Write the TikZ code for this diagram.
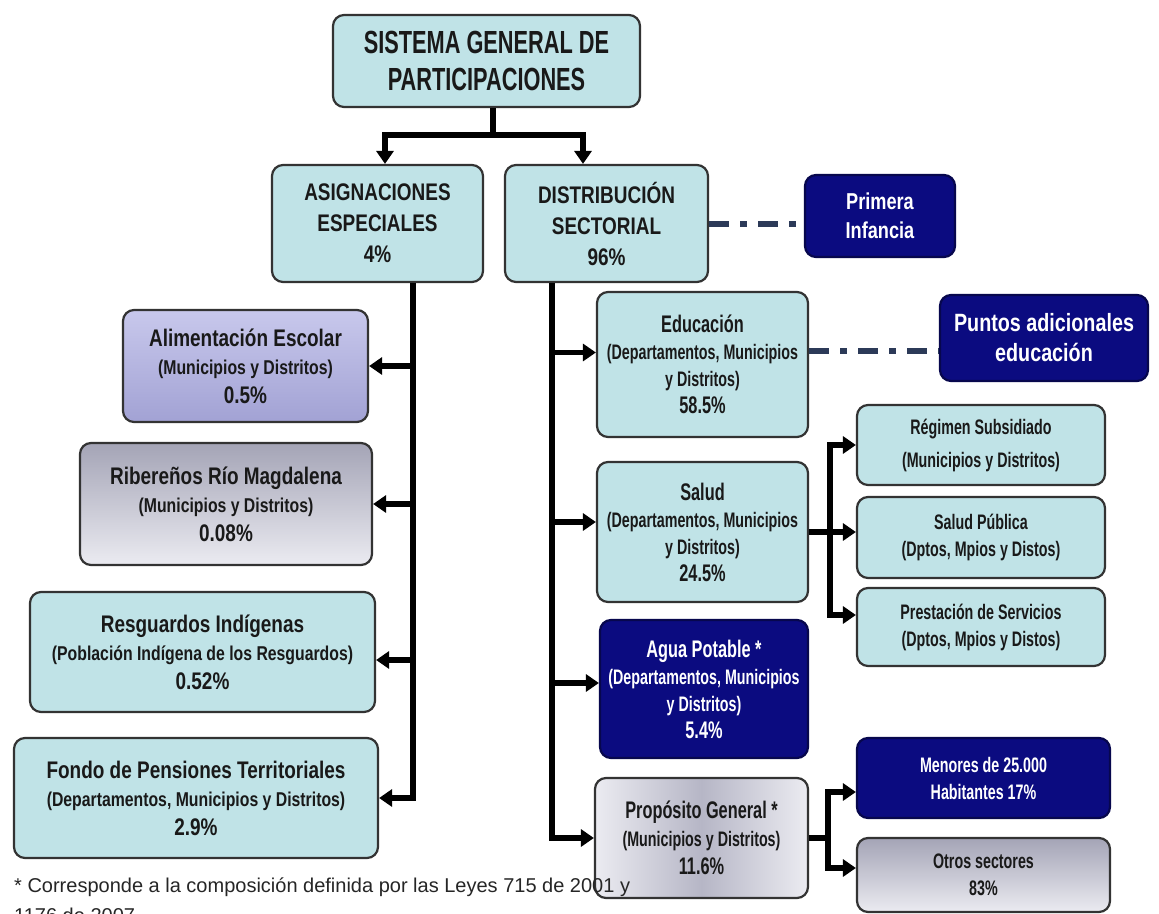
\documentclass[tikz,border=0pt]{standalone}
\usepackage{fontspec}
\setmainfont{Liberation Sans}
\newfontfamily\fA[FakeStretch=0.68]{Liberation Sans}
\newfontfamily\fB[FakeStretch=0.79]{Liberation Sans}
\usetikzlibrary{arrows.meta}
\definecolor{cyanbox}{HTML}{C0E3E7}
\definecolor{navyb}{HTML}{0B0B80}
\definecolor{ddcol}{HTML}{2C3A58}
\definecolor{lavA}{HTML}{C8C8EC}
\definecolor{lavB}{HTML}{A2A2D4}
\definecolor{grA}{HTML}{A4A4B6}
\definecolor{grB}{HTML}{EBEBF1}
\definecolor{grC}{HTML}{B6B6C6}
\newcommand\hd[1]{{\fontsize{24}{27}\selectfont #1}}
\newcommand\hdL[1]{{\fontsize{24}{28.5}\selectfont #1}}
\begin{document}
\begin{tikzpicture}[x=1pt,y=-1pt,
  box/.style={draw=black!80, line width=2.2pt, rounded corners=11pt, align=center,
    inner sep=0pt, text=black!90, font=\fA\bfseries\fontsize{21}{27}\selectfont},
  lbox/.style={font=\fB\bfseries\fontsize{20}{28.5}\selectfont},
  cbox/.style={box, fill=cyanbox},
  nbox/.style={box, fill=navyb, draw=navyb!60!black, text=white},
  bus/.style={line width=5.5pt, black},
  arr/.style={bus, -{Triangle[length=13pt,width=17pt]}},
  dd/.style={line width=6pt, ddcol, dash pattern=on 20pt off 11pt on 7pt off 11pt},
]
\useasboundingbox (0,0) rectangle (1159,913);
\clip (0,0) rectangle (1159,913);
\fill[white] (0,0) rectangle (1159,913);

% top
\node[cbox, minimum width=307pt, minimum height=92pt, font=\fA\bfseries\fontsize{32}{37}\selectfont] (title) at (486.5,61)
  {SISTEMA GENERAL DE\\PARTICIPACIONES};
\node[cbox, minimum width=211pt, minimum height=117pt, font=\fB\bfseries\fontsize{24}{31}\selectfont] (asig) at (377.5,223.5)
  {ASIGNACIONES\\ESPECIALES\\4\%};
\node[cbox, minimum width=203pt, minimum height=117pt, font=\fB\bfseries\fontsize{24}{31}\selectfont] (dist) at (606.5,223.5)
  {DISTRIBUCIÓN\\SECTORIAL\\96\%};
\node[nbox, minimum width=150pt, minimum height=82pt, font=\fB\bfseries\fontsize{23}{29}\selectfont] (prim) at (880,216)
  {Primera\\Infancia};

% left column
\node[box, lbox, top color=lavA, bottom color=lavB, minimum width=245pt, minimum height=112pt] (alim) at (245.5,366)
  {\hdL{Alimentación Escolar}\\(Municipios y Distritos)\\\hdL{0.5\%}};
\node[box, lbox, top color=grA, bottom color=grB, minimum width=292pt, minimum height=122pt] (rib) at (226,504)
  {\hdL{Ribereños Río Magdalena}\\(Municipios y Distritos)\\\hdL{0.08\%}};
\node[cbox, lbox, minimum width=345pt, minimum height=120pt] (res) at (202.5,652)
  {\hdL{Resguardos Indígenas}\\(Población Indígena de los Resguardos)\\\hdL{0.52\%}};
\node[cbox, lbox, minimum width=364pt, minimum height=120pt] (fondo) at (196,798)
  {\hdL{Fondo de Pensiones Territoriales}\\(Departamentos, Municipios y Distritos)\\\hdL{2.9\%}};

% right column
\node[cbox, minimum width=211pt, minimum height=145pt] (edu) at (702.5,364.5)
  {\hd{Educación}\\(Departamentos, Municipios\\y Distritos)\\\hd{58.5\%}};
\node[cbox, minimum width=211pt, minimum height=140pt] (salud) at (702.5,532)
  {\hd{Salud}\\(Departamentos, Municipios\\y Distritos)\\\hd{24.5\%}};
\node[nbox, minimum width=208pt, minimum height=138pt] (agua) at (704,689)
  {\hd{Agua Potable *}\\(Departamentos, Municipios\\y Distritos)\\\hd{5.4\%}};
\node[box, left color=grB, right color=grB, middle color=grC, minimum width=213pt, minimum height=120pt, font=\fA\bfseries\fontsize{21}{28}\selectfont] (prop) at (701.5,838)
  {\hd{Propósito General *}\\(Municipios y Distritos)\\\hd{11.6\%}};
\node[nbox, minimum width=208pt, minimum height=86pt, font=\fB\bfseries\fontsize{25}{30}\selectfont] (puntos) at (1044,338)
  {Puntos adicionales\\educación};

% far right
\node[cbox, minimum width=248pt, minimum height=80pt, font=\fA\bfseries\fontsize{21}{33}\selectfont] (reg) at (981,445)
  {Régimen Subsidiado\\(Municipios y Distritos)};
\node[cbox, minimum width=248pt, minimum height=81pt] (sp) at (981,537.5)
  {Salud Pública\\(Dptos, Mpios y Distos)};
\node[cbox, minimum width=248pt, minimum height=78pt] (prest) at (981,627)
  {Prestación de Servicios\\(Dptos, Mpios y Distos)};
\node[nbox, minimum width=253pt, minimum height=80pt] (men) at (983.5,778)
  {Menores de 25.000\\Habitantes 17\%};
\node[box, top color=grA, bottom color=grB, minimum width=253pt, minimum height=74pt] (otros) at (983.5,875)
  {Otros sectores\\83\%};

% footnote
\node[anchor=base west, inner sep=0pt, font=\fontsize{20}{30}\selectfont, align=left, text=black!85] (note) at (14,922)
  {* Corresponde a la composición definida por las Leyes 715 de 2001 y\\1176 de 2007};

% connectors: top
\coordinate (j1) at (493,135);
\coordinate (aL) at (385,0);
\coordinate (aR) at (583,0);
\draw[bus] (title.south -| j1) -- (j1);
\draw[arr] (j1) -| (aL |- asig.north);
\draw[arr] (j1) -| (aR |- dist.north);

% left bus
\coordinate (lb) at (413,0);
\draw[arr] (lb |- asig.south) -- (lb |- fondo.east) -- (fondo.east);
\draw[arr] (lb |- alim.east) -- (alim.east);
\draw[arr] (lb |- rib.east) -- (rib.east);
\draw[arr] ([yshift=-8pt]lb |- res.east) -- ([yshift=-8pt]res.east);

% right bus
\coordinate (rb) at (552,0);
\draw[arr] (rb |- dist.south) -- (rb |- prop.west) -- (prop.west);
\draw[arr] ([yshift=12pt]rb |- edu.west) -- ([yshift=12pt]edu.west);
\draw[arr] ([yshift=10pt]rb |- salud.west) -- ([yshift=10pt]salud.west);
\draw[arr] ([yshift=6pt]rb |- agua.west) -- ([yshift=6pt]agua.west);

% salud branches
\coordinate (sb) at (830,0);
\draw[arr] (salud.east) -- (salud.east -| sp.west);
\draw[arr] (sb |- salud.east) -- (sb |- reg.west) -- (reg.west);
\draw[arr] (sb |- salud.east) -- ([yshift=12pt]sb |- prest.west) -- ([yshift=12pt]prest.west);

% proposito branches
\coordinate (pb) at (828,0);
\draw[bus] (prop.east) -- (pb |- prop.east);
\draw[arr] (pb |- prop.east) -- ([yshift=-14pt]pb |- men.west) -- ([yshift=-14pt]men.west);
\draw[arr] (pb |- prop.east) -- ([yshift=7pt]pb |- otros.west) -- ([yshift=7pt]otros.west);

% dash-dot links
\draw[dd] (dist.east) -- (dist.east -| prim.west);
\draw[dd] ([yshift=14pt]edu.east) -- ([yshift=14pt]edu.east -| puntos.west);
\end{tikzpicture}
\end{document}
